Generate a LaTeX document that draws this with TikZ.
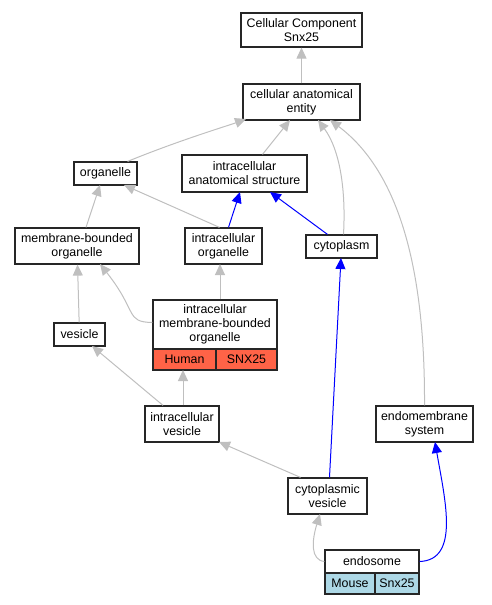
\documentclass[tikz,border=0pt]{standalone}
\usepackage{fontspec}
\setmainfont{Liberation Sans}
\usetikzlibrary{arrows.meta}
\begin{document}
\begin{tikzpicture}[x=1pt,y=-1pt,
  box/.style={draw=black!85,line width=1.2pt,fill=white,inner sep=0pt,align=center,font=\fontsize{12.4}{14}\selectfont},
  cell/.style={box},
  gedge/.style={draw=black!25,line width=1pt,-{Triangle[length=11pt,width=10pt]}},
  bedge/.style={draw=blue,line width=1pt,-{Triangle[length=11pt,width=10pt]}}]
\useasboundingbox (0,0) rectangle (491,605);
\node[box,minimum width=121,minimum height=34] (cc) at (301.5,30) {Cellular Component\\Snx25};
\node[box,minimum width=117,minimum height=36] (cae) at (301.5,102) {cellular anatomical\\entity};
\node[box,minimum width=63,minimum height=23] (org) at (105.5,173.5) {organelle};
\node[box,minimum width=125,minimum height=37] (ias) at (244.5,173.5) {intracellular\\anatomical structure};
\node[box,minimum width=124,minimum height=36] (mbo) at (77,246) {membrane-bounded\\organelle};
\node[box,minimum width=77,minimum height=36] (io) at (223.5,246) {intracellular\\organelle};
\node[box,minimum width=71,minimum height=23] (cyt) at (341.5,246.5) {cytoplasm};
\node[box,minimum width=124,minimum height=49] (imbo) at (215,324.5) {intracellular\\membrane-bounded\\organelle};
\node[cell,fill={rgb,255:red,255;green,99;blue,71},minimum width=63,minimum height=21] (hum) at (184.5,359.5) {Human};
\node[cell,fill={rgb,255:red,255;green,99;blue,71},minimum width=61,minimum height=21] (snxh) at (246.5,359.5) {SNX25};
\node[box,minimum width=51,minimum height=23] (ves) at (79.5,334.5) {vesicle};
\node[box,minimum width=74,minimum height=36] (iv) at (182,424) {intracellular\\vesicle};
\node[box,minimum width=97,minimum height=36] (ems) at (424.5,424) {endomembrane\\system};
\node[box,minimum width=79,minimum height=36] (cv) at (327.5,496) {cytoplasmic\\vesicle};
\node[box,minimum width=94,minimum height=23] (endo) at (372,561.5) {endosome};
\node[cell,fill={rgb,255:red,173;green,216;blue,230},minimum width=50,minimum height=21] (mouse) at (350,583.5) {Mouse};
\node[cell,fill={rgb,255:red,173;green,216;blue,230},minimum width=44,minimum height=21] (snxm) at (397,583.5) {Snx25};
% edges
\draw[gedge] (cae) -- (cc);
\draw[gedge] (org.north east) ++(-10,0) .. controls (180,140) and (230,125) .. (246,119);
\draw[gedge] (ias.north) ++(18,0) -- (290,120);
\draw[gedge] (cyt.north) ++(2,0) .. controls (346,190) and (340,150) .. (318,120);
\draw[gedge] (ems.north) .. controls (425,300) and (410,180) .. (330,120);
\draw[gedge] (mbo.north) ++(9,0) -- (100,185);
\draw[gedge] (io.north) ++(-4,0) -- (124,185);
\draw[bedge] (io.north) ++(5,0) -- (240,192);
\draw[bedge] (cyt.north) ++(-14,0) -- (270,192);
\draw[gedge] (imbo.west) ++(0,-2) .. controls (125,322) and (138,312) .. (100,264);
\draw[gedge] (imbo.north) ++(5,0) -- (220,264);
\draw[gedge] (ves) -- (mbo);
\draw[gedge] (iv.north) ++(-19,0) -- (92,346);
\draw[gedge] (iv.north) ++(1,0) -- (183,370);
\draw[gedge] (cv.north) ++(-27,0) -- (219,442);
\draw[bedge] (cv.north) ++(2,0) -- (341,258);
\draw[gedge] (endo.west) .. controls (310,560) and (312,540) .. (320,514);
\draw[bedge] (endo.east) .. controls (460,560) and (445,500) .. (435,442);
\end{tikzpicture}
\end{document}
